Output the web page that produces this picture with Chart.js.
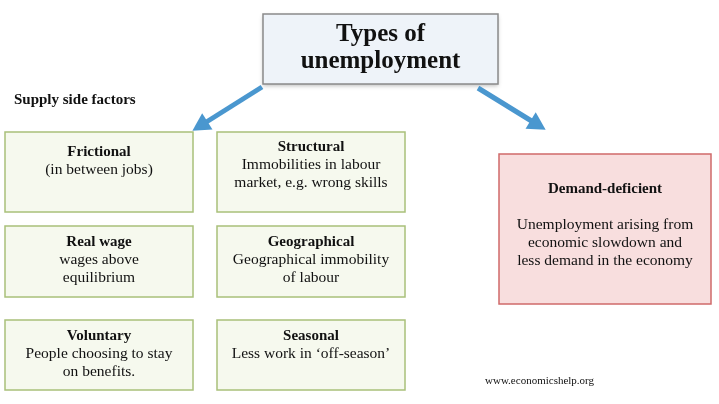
<!DOCTYPE html>
<html><head><meta charset="utf-8">
<script src="https://cdn.jsdelivr.net/npm/chart.js@4"></script>
<style>html,body{margin:0;padding:0;background:#fff}</style>
</head><body>
<canvas id="diagram" width="719" height="404"></canvas>
<script>
// box bounds: [left, top, right, bottom] in diagram units
const boxNames = ['title', 'frictional', 'structural', 'realwage', 'geographical', 'voluntary', 'seasonal', 'demand']
const boxBounds = [
  [263, 14, 498, 84],
  [5, 132, 193, 212], [217, 132, 405, 212],
  [5, 226, 193, 297], [217, 226, 405, 297],
  [5, 320, 193, 390], [217, 320, 405, 390],
  [499, 154, 711, 304]
]
// y of first text line in each box
const boxTextTop = [0, 152, 147, 242, 242, 336, 336, 189]
const boxFill = ['#eef3f9', '#f6f9ee', '#f6f9ee', '#f6f9ee', '#f6f9ee', '#f6f9ee', '#f6f9ee', '#f8dede']
const boxStroke = ['#8a8a8a', '#a9c07a', '#a9c07a', '#a9c07a', '#a9c07a', '#a9c07a', '#a9c07a', '#cf6a6a']
const boxHeadings = ['', 'Frictional', 'Structural', 'Real wage', 'Geographical', 'Voluntary', 'Seasonal', 'Demand-deficient']
const boxLines = [
  [],
  ['(in between jobs)'],
  ['Immobilities in labour', 'market, e.g. wrong skills'],
  ['wages above', 'equilibrium'],
  ['Geographical immobility', 'of labour'],
  ['People choosing to stay', 'on benefits.'],
  ['Less work in \u2018off-season\u2019'],
  ['Unemployment arising from', 'economic slowdown and', 'less demand in the economy']
]
const titleLines = ['Types of', 'unemployment']
const arrowLeft = [{ x: 262, y: 87 }, { x: 200, y: 126 }]
const arrowRight = [{ x: 478, y: 88 }, { x: 538, y: 125 }]

const serif = '"Liberation Serif", "DejaVu Serif", serif'

const boxPlugin = {
  id: 'boxes',
  beforeDatasetsDraw(chart) {
    const { ctx, scales: { x, y } } = chart
    ctx.save()
    boxBounds.forEach((b, i) => {
      const l = x.getPixelForValue(b[0]), t = y.getPixelForValue(b[1])
      const r = x.getPixelForValue(b[2]), btm = y.getPixelForValue(b[3])
      if (i === 0) { ctx.shadowColor = 'rgba(0,0,0,0.25)'; ctx.shadowBlur = 4; ctx.shadowOffsetY = 2 }
      ctx.fillStyle = boxFill[i]
      ctx.fillRect(l, t, r - l, btm - t)
      ctx.shadowColor = 'transparent'
      ctx.lineWidth = 1.5
      ctx.strokeStyle = boxStroke[i]
      ctx.strokeRect(l, t, r - l, btm - t)
      const cx = (l + r) / 2
      ctx.fillStyle = '#111'
      ctx.textAlign = 'center'
      ctx.textBaseline = 'middle'
      if (i === 0) {
        ctx.font = 'bold 25px ' + serif
        ctx.fillText(titleLines[0], cx, t + 21)
        ctx.fillText(titleLines[1], cx, t + 48)
        return
      }
      const lineH = 18
      const gap = i === 7 ? 18 : 0
      let yy = y.getPixelForValue(boxTextTop[i])
      ctx.font = 'bold 15px ' + serif
      ctx.fillText(boxHeadings[i], cx, yy)
      yy += lineH + gap
      ctx.font = '15.5px ' + serif
      boxLines[i].forEach(s => { ctx.fillText(s, cx, yy); yy += lineH })
    })
    ctx.textAlign = 'left'
    ctx.font = 'bold 15px ' + serif
    ctx.fillText('Supply side factors', x.getPixelForValue(14), y.getPixelForValue(100))
    ctx.font = '11px ' + serif
    ctx.fillText('www.economicshelp.org', x.getPixelForValue(485), y.getPixelForValue(381))
    ctx.restore()
  },
  afterDatasetsDraw(chart) {
    const { ctx, scales: { x, y } } = chart
    ctx.save()
    ctx.fillStyle = '#4a97cf'
    ;[arrowLeft, arrowRight].forEach(a => {
      const x0 = x.getPixelForValue(a[0].x), y0 = y.getPixelForValue(a[0].y)
      const x1 = x.getPixelForValue(a[1].x), y1 = y.getPixelForValue(a[1].y)
      const ang = Math.atan2(y1 - y0, x1 - x0)
      ctx.beginPath()
      ctx.moveTo(x1 + Math.cos(ang) * 9, y1 + Math.sin(ang) * 9)
      ctx.lineTo(x1 + Math.cos(ang + 2.3) * 13, y1 + Math.sin(ang + 2.3) * 13)
      ctx.lineTo(x1 + Math.cos(ang - 2.3) * 13, y1 + Math.sin(ang - 2.3) * 13)
      ctx.closePath()
      ctx.fill()
    })
    ctx.restore()
  }
}

const lineStyle = { showLine: true, borderColor: '#4a97cf', borderWidth: 5, pointRadius: 0, borderCapStyle: 'butt' }

new Chart(document.getElementById('diagram'), {
  type: 'scatter',
  data: {
    datasets: [
      { label: 'left', data: arrowLeft, ...lineStyle },
      { label: 'right', data: arrowRight, ...lineStyle }
    ]
  },
  options: {
    responsive: false,
    animation: false,
    layout: { padding: 0 },
    plugins: { legend: { display: false }, tooltip: { enabled: false } },
    scales: {
      x: { type: 'linear', min: 0, max: 719, display: false },
      y: { type: 'linear', min: 0, max: 404, reverse: true, display: false }
    }
  },
  plugins: [boxPlugin]
})
</script>
</body></html>
